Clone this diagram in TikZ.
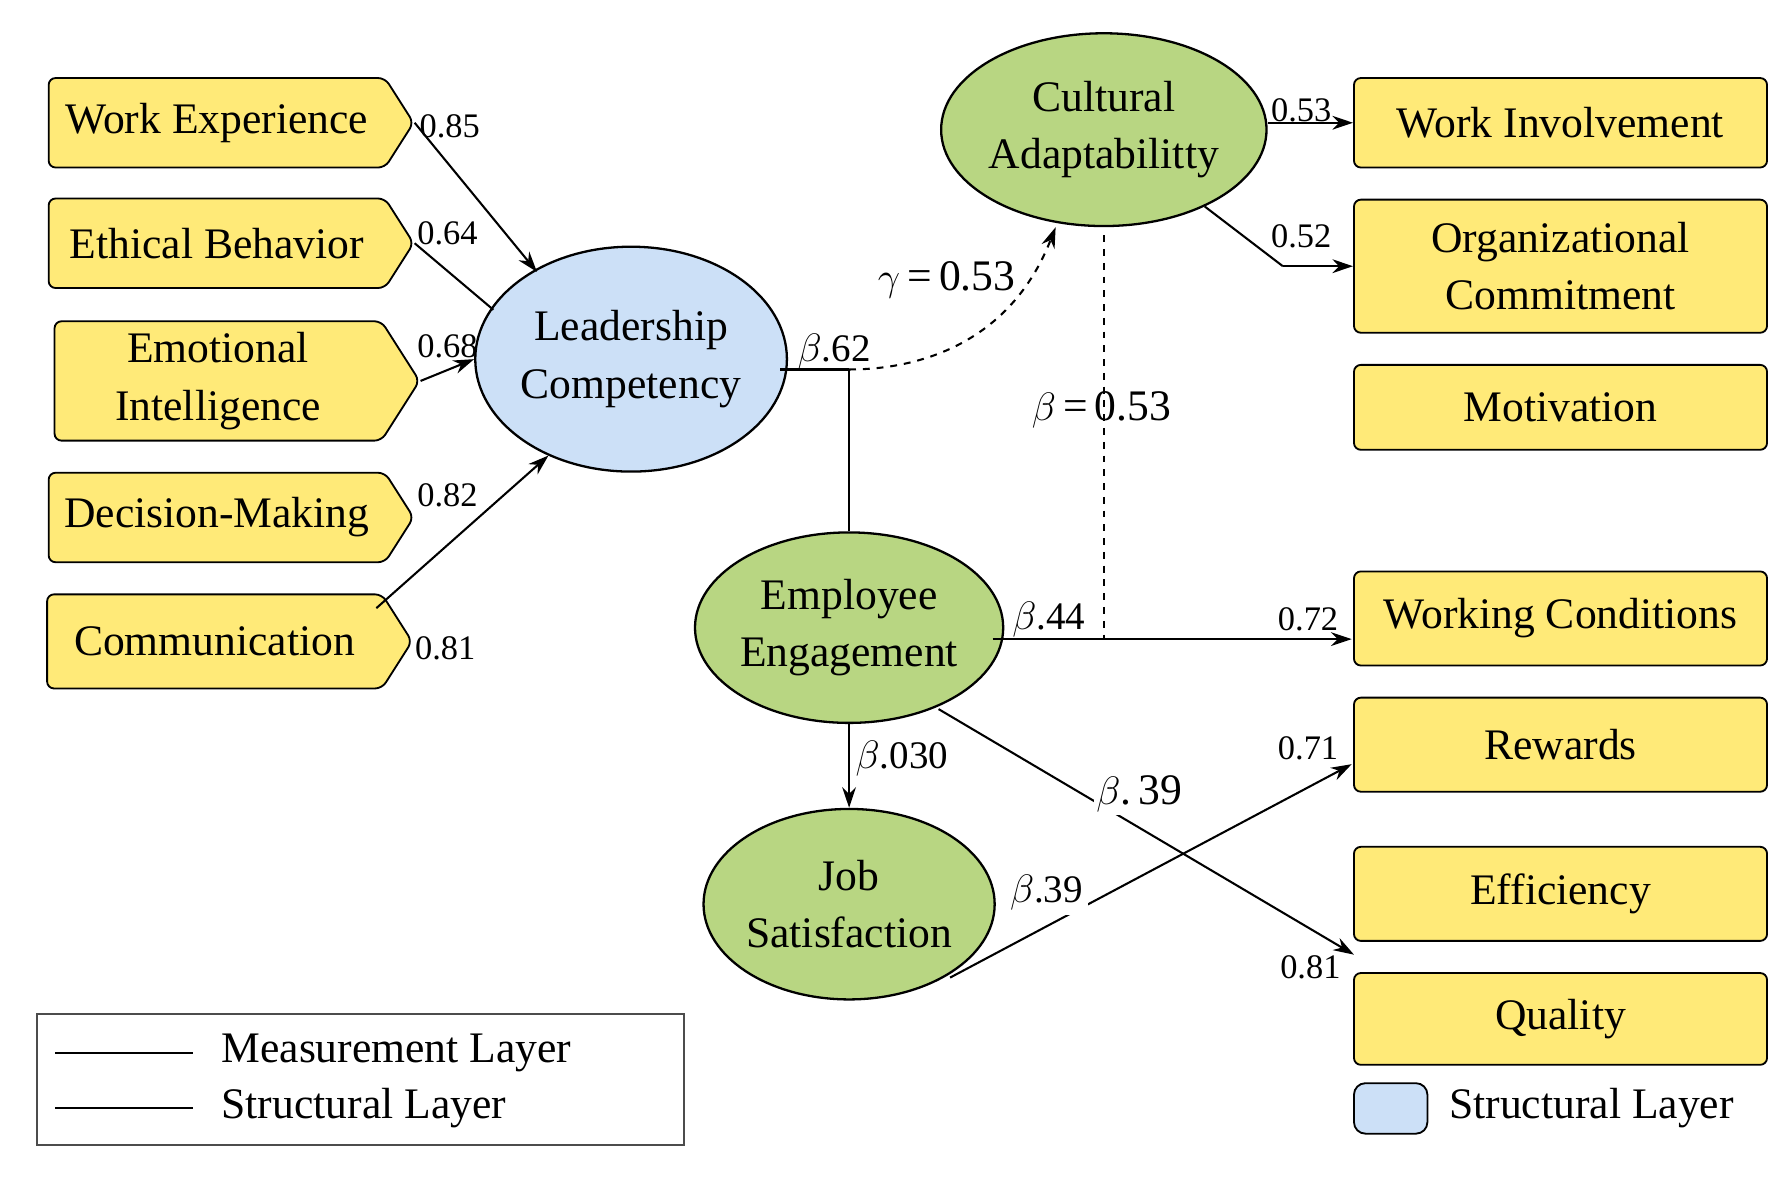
\documentclass[tikz,border=0pt]{standalone}
\usepackage{fontspec}
\setmainfont{Liberation Serif}
\usetikzlibrary{shapes.symbols,shapes.geometric,arrows.meta}
\begin{document}
\begin{tikzpicture}[x=0.5pt,y=-0.5pt,
  big/.style={font=\fontsize{19}{25}\selectfont, align=center},
  lab/.style={font=\fontsize{15}{18}\selectfont, inner sep=1pt},
  blab/.style={font=\fontsize{17}{20}\selectfont, inner sep=2pt},
  sig/.style={signal, signal to=east, signal pointer angle=115, draw, fill=yellowbox, line width=0.8pt, minimum width=159pt, minimum height=39pt, inner sep=0pt, big, rounded corners=3pt},
  rbox/.style={draw, fill=yellowbox, line width=0.8pt, minimum width=180pt, rounded corners=3pt, big, inner sep=0pt},
  ell/.style={ellipse, draw, line width=1pt, big, inner sep=0pt},
  arr/.style={-{Stealth[length=9pt,width=6pt]}, line width=0.9pt},
  ln/.style={line width=0.9pt}]
\definecolor{yellowbox}{RGB}{255,234,120}
\definecolor{bluefill}{RGB}{204,224,247}
\definecolor{greenfill}{RGB}{184,214,130}
\useasboundingbox (0,0) rectangle (1560,1028);
% left signals
\node[sig] (we) at (189,107) {Work Experience};
\node[sig] (eb) at (189,212) {Ethical Behavior};
\node[sig, minimum height=52pt] (ei) at (190,332) {Emotional\\Intelligence};
\node[sig] (dm) at (189,451) {Decision-Making};
\node[sig, minimum height=41pt] (co) at (187,559) {Communication};
% ellipses
\node[ell, fill=bluefill, minimum width=130pt, minimum height=98pt] (lc) at (550,313) {Leadership\\Competency};
\node[ell, fill=greenfill, minimum width=125pt, minimum height=84pt] (ca) at (962,113) {Cultural\\Adaptabilitty};
\node[ell, fill=greenfill, minimum width=125pt, minimum height=83pt] (ee) at (740,547) {Employee\\Engagement};
\node[ell, fill=greenfill, minimum width=120pt, minimum height=83pt] (js) at (740,788) {Job\\Satisfaction};
% right boxes
\node[rbox, minimum height=39pt] (wi) at (1360,107) {Work Involvement};
\node[rbox, minimum height=58pt] (oc) at (1360,232) {Organizational\\Commitment};
\node[rbox, minimum height=37pt] (mo) at (1360,355) {Motivation};
\node[rbox, minimum height=41pt] (wc) at (1360,539) {Working Conditions};
\node[rbox, minimum height=41pt] (rw) at (1360,649) {Rewards};
\node[rbox, minimum height=41pt] (ef) at (1360,779) {Efficiency};
\node[rbox, minimum height=40pt] (qu) at (1360,888) {Quality};
% coordinates
\coordinate (coT) at (328,530);
\coordinate (lcR) at (680,322);
\coordinate (br) at (740,322);
\coordinate (ocK) at (1118,232);
\coordinate (dT) at (962,205);
\coordinate (dB) at (962,556);
\coordinate (eeR) at (865,557);
\coordinate (wcL) at (1178,557);
\coordinate (rwL) at (1178,666);
\coordinate (quL) at (1180,832);
% measurement arrows
\draw[arr] (we.east) -- (468,237);
\draw[ln] (eb.east) -- (430,270);
\draw[arr] (ei.east) -- (lc.west);
\draw[arr] (coT) -- (478,397);
\node[lab] (l1) at (392,110) {0.85};
\node[lab] (l2) at (390,203) {0.64};
\node[lab] (l3) at (390,302) {0.68};
\node[lab] (l4) at (390,432) {0.82};
\node[lab] (l5) at (388,565) {0.81};
% structural
\draw[ln] (lcR) -- (br);
\draw[arr, dashed] (br) .. controls (800,322) and (880,300) .. (920,198);
\node[font=\fontsize{19}{22}\selectfont] (g) at (825,244) {$\gamma$\,=\,0.53};
\node[blab] (b62) at (727,306) {$\beta$.62};
\draw[ln] (br) -- (ee.north);
\draw[arr] (ca.east |- wi.west) -- (wi.west);
\draw[ln] (1050,180) -- (ocK);
\draw[arr] (ocK) -- (oc.west);
\node[lab] (l6) at (1134,96) {0.53};
\node[lab] (l7) at (1134,206) {0.52};
\draw[ln, dashed] (dT) -- (dB);
\node[font=\fontsize{19}{22}\selectfont] (b53) at (960,357) {$\beta$\,=\,0.53};
\draw[arr] (eeR) -- (wcL);
\node[blab] (b44) at (914,540) {$\beta$.44};
\node[lab] (l8) at (1140,540) {0.72};
\draw[arr] (ee.south) -- (js.north);
\node[blab] (b030) at (786,661) {$\beta$.030};
\draw[arr] (818,618) -- (quL);
\node[font=\fontsize{19}{22}\selectfont, fill=white, inner sep=1pt] (b39a) at (993,692) {$\beta$.\,39};
\node[lab] (l9) at (1142,843) {0.81};
\draw[arr] (828,852) -- (rwL);
\node[blab, fill=white] (b39b) at (912,778) {$\beta$.39};
\node[lab] (l10) at (1140,652) {0.71};
% legend
\draw[line width=0.8pt, draw=black!70] (32,884) rectangle (596,998);
\coordinate (m1) at (48,918); \coordinate (m2) at (168,918);
\coordinate (s1) at (48,966); \coordinate (s2) at (168,966);
\draw[ln] (m1) -- (m2);
\draw[ln] (s1) -- (s2);
\node[big, anchor=west] (t1) at (186,918) {Measurement Layer};
\node[big, anchor=west] (t2) at (186,966) {Structural Layer};
\node[draw, fill=bluefill, rounded corners=5pt, line width=0.8pt, minimum width=32pt, minimum height=22pt] (lg) at (1212,966) {};
\node[big, anchor=west] (t3) at (1256,966) {Structural Layer};
\end{tikzpicture}
\end{document}
